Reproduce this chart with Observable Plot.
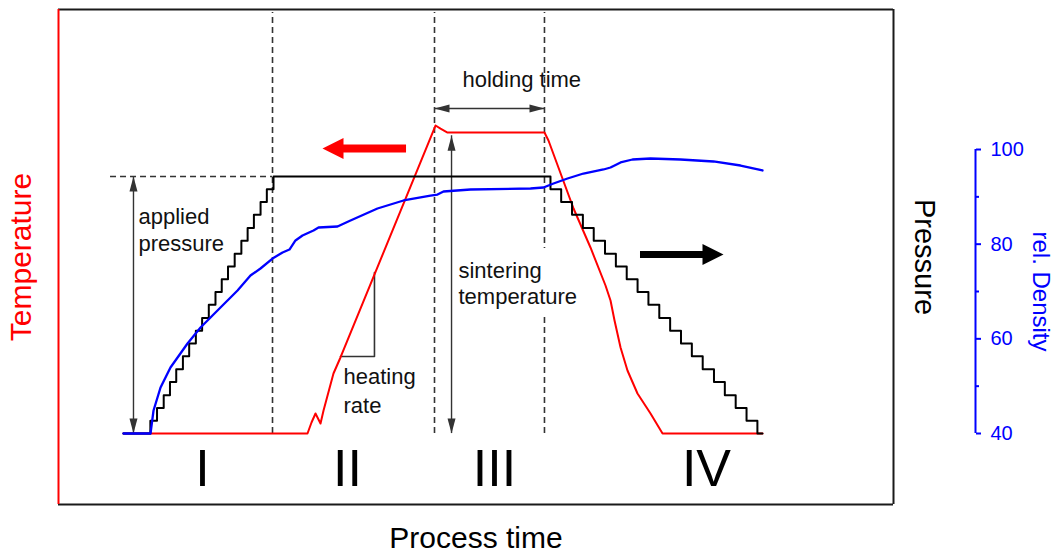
<!DOCTYPE html>
<html>
<head>
<meta charset="utf-8">
<script src="https://cdn.jsdelivr.net/npm/d3@7"></script>
<script src="https://cdn.jsdelivr.net/npm/@observablehq/plot@0.6"></script>
<style>
  html, body { margin: 0; padding: 0; background: #fff; }
  #chart svg { display: block; }
</style>
</head>
<body>
<div id="chart"></div>
<script>
// ---------- DATA (process time 0..100 across the frame; levels on the rel. density scale) ----------
const tempTime  = [7.78, 29.82, 30.30, 30.78, 31.38, 31.74, 32.93, 33.77, 45.15, 45.75, 46.59, 58.20, 58.68, 61.68, 63.71, 65.51, 66.11, 66.59, 67.31, 68.14, 69.34, 70.90, 72.34, 84.31];
const tempLevel = [40, 40, 42.32, 44.23, 42.11, 44.86, 52.68, 56.06, 105.07, 104.4, 103.59, 103.59, 101.90, 87.54, 79.30, 71.27, 68.10, 63.87, 58.17, 53.31, 48.45, 44.23, 40, 40];

const pressureTime  = [7.78, 11.0, 11.8, 12.6, 13.35, 14.1, 14.9, 15.65, 16.45, 17.2, 18.0, 18.8, 19.55, 20.3, 21.1, 21.9, 22.65, 23.4, 24.2, 24.95, 25.75,
                       58.92, 60.2, 61.5, 62.8, 64.1, 65.45, 66.75, 68.05, 69.35, 70.65, 71.95, 73.25, 74.55, 75.85, 77.15, 78.5, 79.8, 81.1, 82.4, 83.7, 84.31];
const pressureLevel = [40, 42.7, 45.4, 48.1, 50.9, 53.6, 56.3, 59.0, 61.7, 64.4, 67.2, 69.9, 72.6, 75.3, 78.0, 80.7, 83.4, 86.2, 88.9, 91.6, 94.3,
                       91.6, 88.9, 86.2, 83.4, 80.7, 78.0, 75.3, 72.6, 69.9, 67.2, 64.4, 61.7, 59.0, 56.3, 53.6, 50.9, 48.1, 45.4, 42.7, 40, 40];

const densityTime = [7.78, 11.02, 11.38, 12.22, 13.41, 15.45, 17.01, 19.04, 21.44, 22.99, 24.19, 25.63, 26.83, 27.66, 28.38, 29.22, 30.54, 31.14, 33.41, 34.97,
                     38.20, 41.32, 44.55, 45.39, 46.11, 49.34, 56.53, 58.08, 59.28, 60.96, 62.87, 65.27, 66.11, 67.31, 68.74, 70.90, 74.49, 78.44, 81.68, 84.31];
const density     = [40, 40, 44.86, 49.72, 53.94, 59.01, 62.40, 65.99, 70.21, 73.38, 74.86, 76.97, 78.24, 78.87, 80.78, 81.83, 82.89, 83.52, 83.73, 85.00,
                     87.54, 89.23, 90.28, 90.49, 91.13, 91.55, 91.76, 91.97, 92.82, 93.88, 94.93, 95.78, 96.20, 97.26, 97.89, 98.10, 97.89, 97.47, 96.62, 95.57];

const densityTicks = [40, 60, 80, 100];
const densityMinorTicks = [50, 70, 90];
const phaseLabels = ["I", "II", "III", "IV"];
const phaseCenters = [17.25, 34.61, 52.22, 77.60];
const phaseBounds = [25.63, 45.03, 58.20];

// ---------- ANNOTATION LAYOUT ----------
const xMax = 109.82, yMin = 25.0, yMax = 129.58, frameRight = 100;
const pressureMax = 94.3, sinterLevel = 102.9, holdLevel = 108.67, floor = 40;
const notes = [
  {x: 9.58,  y: 85.85,  text: "applied"},
  {x: 9.58,  y: 80.14,  text: "pressure"},
  {x: 47.90, y: 74.44,  text: "sintering"},
  {x: 47.90, y: 68.94,  text: "temperature"},
  {x: 34.13, y: 52.04,  text: "heating"},
  {x: 34.13, y: 45.92,  text: "rate"},
  {x: 48.38, y: 114.79, text: "holding time"}
];
const smallHeads = [
  {x: 8.98,  y: pressureMax, rot: 0},
  {x: 8.98,  y: floor,       rot: 180},
  {x: 47.07, y: sinterLevel, rot: 0},
  {x: 47.07, y: floor,       rot: 180},
  {x: 45.03, y: holdLevel,   rot: -90},
  {x: 58.20, y: holdLevel,   rot: 90}
];

function headSymbol(len, wid) {
  return {draw(ctx) { ctx.moveTo(0, 0); ctx.lineTo(-wid / 2, len); ctx.lineTo(wid / 2, len); ctx.closePath(); }};
}
const smallHead = headSymbol(15, 8);
const bigHead = headSymbol(21, 21);

const temperature = tempTime.map((t, i) => ({t, v: tempLevel[i]}));
const pressure = pressureTime.map((t, i) => ({t, v: pressureLevel[i]}));
const dens = densityTime.map((t, i) => ({t, v: density[i]}));
const phases = phaseLabels.map((label, i) => ({label, x: phaseCenters[i]}));

const gray = "#333";
const chart = Plot.plot({
  width: 1055, height: 552,
  marginLeft: 58, marginRight: 80, marginTop: 9, marginBottom: 48,
  style: {fontFamily: "'Liberation Sans', Arial, Helvetica, sans-serif", background: "#fff", overflow: "visible"},
  x: {domain: [0, xMax], axis: null},
  y: {domain: [yMin, yMax], axis: null},
  marks: [
    // frame
    Plot.ruleY([yMax, yMin], {x1: 0, x2: frameRight, stroke: "#1a1a1a", strokeWidth: 2}),
    Plot.ruleX([frameRight], {y1: yMin, y2: yMax, stroke: "#1a1a1a", strokeWidth: 2}),
    Plot.ruleX([0], {y1: yMin, y2: yMax, stroke: "#ff0000", strokeWidth: 2}),
    // dashed phase boundaries
    Plot.ruleX(phaseBounds, {y1: floor, y2: 128.95, stroke: gray, strokeWidth: 1.6, strokeDasharray: "6,4"}),
    Plot.ruleY([pressureMax], {x1: 6.23, x2: phaseBounds[0], stroke: gray, strokeWidth: 1.6, strokeDasharray: "6,4"}),
    // white box behind "sintering temperature"
    Plot.rect([0], {x1: 47.54, x2: 61.92, y1: 65.35, y2: 79.09, fill: "#fff"}),
    // thin arrows
    Plot.ruleX([8.98], {y1: floor, y2: pressureMax, stroke: gray, strokeWidth: 1.4}),
    Plot.ruleX([47.07], {y1: floor, y2: sinterLevel, stroke: gray, strokeWidth: 1.4}),
    Plot.ruleY([holdLevel], {x1: phaseBounds[1], x2: phaseBounds[2], stroke: gray, strokeWidth: 1.4}),
    Plot.line([[33.77, 56.27], [37.84, 56.27], [37.84, 74.02]], {stroke: gray, strokeWidth: 1.6}),
    Plot.dot(smallHeads, {x: "x", y: "y", rotate: "rot", symbol: smallHead, r: 5, fill: gray, stroke: null}),
    // data lines
    Plot.line(temperature, {x: "t", y: "v", stroke: "#ff0000", strokeWidth: 2}),
    Plot.line(pressure, {x: "t", y: "v", curve: "step-after", stroke: "#000", strokeWidth: 2}),
    Plot.line(dens, {x: "t", y: "v", stroke: "#0000ff", strokeWidth: 2.3}),
    // thick direction arrows
    Plot.ruleY([100.21], {x1: 34.0, x2: 41.68, stroke: "#ff0000", strokeWidth: 8}),
    Plot.dot([[31.62, 100.21]], {symbol: bigHead, rotate: -90, r: 5, fill: "#ff0000", stroke: null}),
    Plot.ruleY([77.82], {x1: 69.70, x2: 77.25, stroke: "#000", strokeWidth: 7}),
    Plot.dot([[79.64, 77.82]], {symbol: bigHead, rotate: 90, r: 5, fill: "#000", stroke: null}),
    // annotation texts
    Plot.text(notes, {x: "x", y: "y", text: "text", textAnchor: "start", fontSize: 22, fill: "#111"}),
    Plot.text(phases, {x: "x", y: 32.52, text: "label", fontSize: 52, fill: "#000"}),
    // right density axis
    Plot.ruleX([xMax], {y1: 40, y2: 100, stroke: "#0000ff", strokeWidth: 2}),
    Plot.axisY(densityTicks, {anchor: "right", tickSize: 5, tickPadding: 10, fontSize: 20, color: "#0000ff", strokeWidth: 2, label: null}),
    Plot.axisY(densityMinorTicks, {anchor: "right", tickSize: 3, tickFormat: () => "", color: "#0000ff", strokeWidth: 2, label: null}),
    // axis titles
    Plot.text(["Temperature"], {frameAnchor: "left", dx: -37, dy: 0, rotate: -90, textAnchor: "middle", lineAnchor: "middle", fontSize: 30, fill: "#ff0000"}),
    Plot.text(["Pressure"], {frameAnchor: "right", dx: -51, rotate: 90, textAnchor: "middle", lineAnchor: "middle", fontSize: 29, fill: "#000"}),
    Plot.text(["rel. Density"], {x: xMax, y: 70, dx: 65, rotate: 90, textAnchor: "middle", lineAnchor: "middle", fontSize: 24, fill: "#0000ff"}),
    Plot.text(["Process time"], {frameAnchor: "bottom", dx: -41, dy: 34, textAnchor: "middle", lineAnchor: "middle", fontSize: 30, fill: "#000"})
  ]
});
document.getElementById("chart").appendChild(chart);
</script>
</body>
</html>
